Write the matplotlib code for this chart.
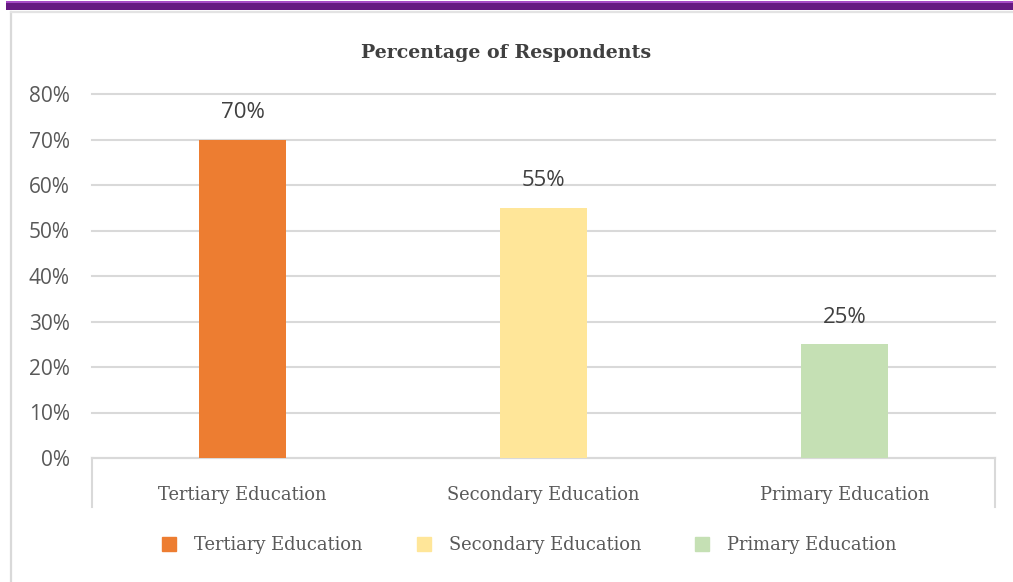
import matplotlib.pyplot as plt
from matplotlib.lines import Line2D
from matplotlib.patches import Rectangle

# datos
categorias = ["Tertiary Education", "Secondary Education", "Primary Education"]
porcentajes = [0.70, 0.55, 0.25]
colores = ["#ED7D31", "#FFE699", "#C5E0B4"]
ticks_y = [0, 0.1, 0.2, 0.3, 0.4, 0.5, 0.6, 0.7, 0.8]
etiquetas_y = ["0%", "10%", "20%", "30%", "40%", "50%", "60%", "70%", "80%"]

W, H = 1013, 582
fig = plt.figure(figsize=(W / 100, H / 100), dpi=100)

# banda morada arriba y marco gris
fig.patches.append(Rectangle((6 / W, 1 - 10 / H), 1, 9 / H, transform=fig.transFigure,
                             facecolor="#651981", edgecolor="none"))
fig.patches.append(Rectangle((6 / W, 1 - 3 / H), 1, 2 / H, transform=fig.transFigure,
                             facecolor="#a64bc6", edgecolor="none"))
fig.lines.append(Line2D([11 / W, 11 / W], [0, 1 - 12 / H], transform=fig.transFigure,
                        color="#d9d9d9", lw=1.6))
fig.lines.append(Line2D([11 / W, 1], [1 - 12 / H, 1 - 12 / H], transform=fig.transFigure,
                        color="#e3e3e3", lw=1.6))

ax = fig.add_axes([92 / W, 124 / H, 903 / W, 364 / H])
x = range(len(categorias))
barras = ax.bar(x, porcentajes, width=0.29, color=colores, zorder=3)

ax.set_xlim(-0.5, 2.5)
ax.set_ylim(0, 0.8)
ax.set_yticks(ticks_y)
ax.set_yticklabels(etiquetas_y, fontsize=15, color="#595959", family="Open Sans")
ax.set_xticks(list(x))
ax.set_xticklabels(categorias, fontsize=12.9, color="#595959", family="DejaVu Serif")
ax.tick_params(axis="y", length=0, pad=16)
ax.tick_params(axis="x", length=0, pad=20)
ax.grid(axis="y", color="#d9d9d9", lw=1.5, zorder=0)
for gl in ax.get_ygridlines():
    gl.set_clip_on(False)
for s in ["top", "right", "left"]:
    ax.spines[s].set_visible(False)
ax.spines["bottom"].set_color("#d9d9d9")
ax.spines["bottom"].set_linewidth(1.5)

# lineas verticales del eje de categorias
for xv in [0, 1]:
    ax.plot([xv, xv], [0, -49 / 364], transform=ax.transAxes, color="#d9d9d9",
            lw=1.5, clip_on=False)

# etiquetas de datos
for b, v in zip(barras, porcentajes):
    ax.annotate(f"{v:.0%}", (b.get_x() + b.get_width() / 2, v), xytext=(0, 19.5),
                textcoords="offset points", ha="center", va="center",
                fontsize=16, color="#404040", family="Open Sans")

fig.text(0.5, 1 - 53 / H, "Percentage of Respondents", ha="center", va="center",
         fontsize=13.7, fontweight="bold", color="#404040", family="DejaVu Serif")

# leyenda
marcas = [Line2D([], [], marker="s", ls="none", markersize=10, color=c) for c in colores]
fig.legend(marcas, categorias, loc="center", bbox_to_anchor=(524 / W, 1 - 545 / H),
           ncol=3, frameon=False, handletextpad=0.4, columnspacing=2.4,
           prop={"family": "DejaVu Serif", "size": 12.9}, labelcolor="#595959")

fig.savefig("out.png", dpi=100)
